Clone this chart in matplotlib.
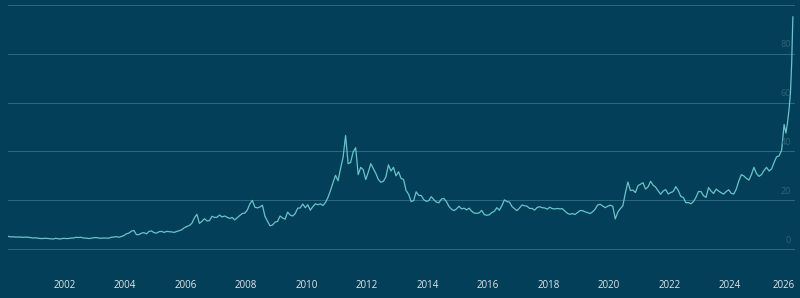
import numpy as np
import matplotlib
matplotlib.use("Agg")
import matplotlib.pyplot as plt
from matplotlib.transforms import offset_copy

# ── Data: silver price (USD/oz), monthly from Feb 2000 ───────────────
START = 2000 + 1 / 12          # first month in the series (Feb 2000)
monthly = [
    # 2000 (Feb-Dec)
    5.3, 5.1, 5.1, 5.0, 5.0, 5.0, 4.9, 5.0, 4.9, 4.8, 4.6,
    # 2001
    4.7, 4.5, 4.4, 4.4, 4.5, 4.4, 4.3, 4.2, 4.5, 4.3, 4.2, 4.5,
    # 2002
    4.4, 4.4, 4.6, 4.6, 4.9, 4.8, 4.9, 4.6, 4.6, 4.4, 4.5, 4.7,
    # 2003
    4.8, 4.6, 4.5, 4.6, 4.6, 4.5, 4.9, 5.0, 5.2, 4.9, 5.2, 5.6,
    # 2004
    6.3, 6.6, 7.4, 7.7, 6.0, 6.0, 6.6, 6.8, 6.3, 7.3, 7.5, 6.8,
    # 2005
    6.6, 7.2, 7.3, 6.9, 7.3, 7.2, 7.1, 6.9, 7.3, 7.6, 8.0, 8.8,
    # 2006
    9.3, 9.7, 10.6, 12.8, 14.3, 10.6, 11.4, 12.5, 11.6, 11.7, 13.5, 13.0,
    # 2007
    13.1, 14.0, 13.2, 13.6, 13.1, 12.6, 13.0, 12.0, 12.9, 13.8, 14.6, 14.8,
    # 2008
    16.0, 18.5, 20.0, 17.2, 16.9, 17.3, 18.0, 13.5, 11.5, 9.6, 9.9, 11.1,
    # 2009
    11.4, 13.6, 12.8, 12.3, 15.2, 14.0, 13.6, 14.6, 16.8, 16.9, 18.5, 17.0,
    # 2010
    18.2, 16.0, 17.4, 18.6, 18.2, 18.6, 17.9, 19.1, 21.2, 24.0, 27.2, 30.2,
    # 2011
    28.0, 33.0, 37.6, 46.5, 35.0, 35.5, 39.8, 41.5, 30.5, 33.5, 32.5, 28.5,
    # 2012
    31.5, 35.0, 33.0, 31.0, 28.5, 27.4, 27.8, 29.6, 34.5, 32.0, 33.5, 30.0,
    # 2013
    31.7, 29.0, 28.5, 24.0, 22.5, 19.5, 19.9, 23.5, 22.0, 22.0, 20.3, 19.6,
    # 2014
    19.9, 21.5, 20.3, 19.3, 19.0, 20.5, 20.8, 19.5, 17.5, 16.4, 15.8, 16.5,
    # 2015
    17.6, 16.5, 16.8, 16.1, 16.8, 15.6, 14.8, 14.7, 14.9, 15.9, 14.2, 13.9,
    # 2016
    14.1, 15.0, 15.5, 17.0, 16.0, 17.8, 20.2, 19.5, 19.3, 17.5, 16.6, 15.8,
    # 2017
    16.9, 18.1, 17.8, 17.6, 16.7, 16.7, 16.0, 17.1, 17.4, 17.0, 16.9, 16.4,
    # 2018
    17.2, 16.6, 16.5, 16.7, 16.5, 16.6, 15.6, 14.7, 14.3, 14.6, 14.2, 15.0,
    # 2019
    15.8, 15.8, 15.3, 15.0, 14.6, 15.3, 16.4, 18.1, 18.4, 17.7, 17.0, 17.6,
    # 2020
    18.0, 17.6, 12.4, 15.2, 16.6, 17.8, 23.0, 27.5, 24.0, 24.2, 23.2, 26.0,
    # 2021
    26.6, 27.2, 24.6, 25.5, 27.8, 26.2, 25.4, 23.9, 22.5, 23.8, 24.4, 22.6,
    # 2022
    23.2, 23.6, 25.6, 24.0, 21.6, 21.2, 19.0, 19.1, 18.6, 19.5, 21.2, 23.6,
    # 2023
    23.6, 21.9, 21.2, 25.2, 23.8, 22.8, 24.6, 23.8, 23.1, 22.6, 23.6, 24.3,
    # 2024
    22.9, 22.6, 24.6, 27.9, 30.5, 30.0, 29.0, 28.3, 30.5, 33.5, 31.0, 29.8,
    # 2025 (Jan-Sep)
    30.5, 32.2, 33.5, 32.0, 32.8, 35.5, 37.8, 38.2, 40.5,
]
# final rally, finer steps (decimal years)
tail_dates  = [2025.79, 2025.85, 2025.90, 2025.96, 2026.00, 2026.04, 2026.08]
tail_values = [51.0, 47.5, 51.5, 58.0, 64.0, 76.0, 95.0]

year_ticks = list(range(2002, 2027, 2))
y_ticks    = [0, 20, 40, 60, 80, 100]

dates  = np.concatenate([START + (np.arange(len(monthly)) + 0.5) / 12, tail_dates])
values = np.concatenate([monthly, tail_values])

# ── Style ────────────────────────────────────────────────────────────
BG    = '#033f58'
GRID  = '#2b6b82'
LINE  = '#68c4ca'
TICK  = '#dfe8ec'
YLAB  = '#2f6577'
W, H  = 800, 298

fig = plt.figure(figsize=(W / 100, H / 100), dpi=100)
fig.patch.set_facecolor(BG)
ax = fig.add_axes([8 / W, 1 - 262 / H, (795 - 8) / W, 262 / H])
ax.set_facecolor(BG)

ax.plot(dates, values, color=LINE, lw=0.9, solid_joinstyle='round')

ax.set_xlim(2000.13, 2026.15)
ax.set_ylim(-5.2, 101.9)
ax.set_yticks(y_ticks)
ax.yaxis.grid(True, color=GRID, lw=0.7)
ax.set_axisbelow(True)
ax.tick_params(axis='y', length=0, labelleft=False)
for s in ax.spines.values():
    s.set_visible(False)

# y labels sit inside the plot, just above each grid line
for v in y_ticks[:-1]:
    ax.annotate(str(v), xy=(1, v), xycoords=('axes fraction', 'data'),
                xytext=(-3, 3), textcoords='offset points',
                ha='right', va='bottom', color=YLAB, fontsize=6.5,
                family='Open Sans')

ax.set_xticks(year_ticks)
ax.set_xticklabels([str(y) for y in year_ticks])
ax.tick_params(axis='x', length=0, pad=13, colors=TICK, labelsize=7)
for lbl in ax.get_xticklabels():
    lbl.set_family('Open Sans')
# last label nudged inward so it is not clipped
last = ax.get_xticklabels()[-1]
last.set_transform(offset_copy(last.get_transform(), fig=fig, x=-7, units='dots'))

fig.savefig('out.png', dpi=100, facecolor=BG)
